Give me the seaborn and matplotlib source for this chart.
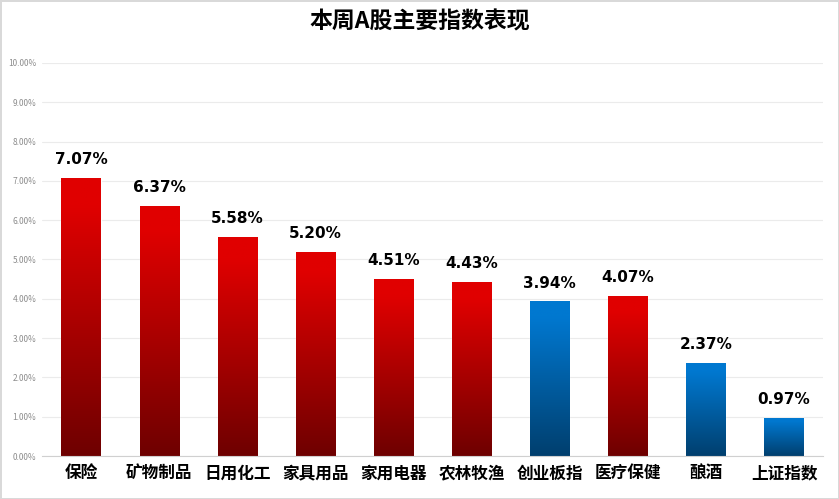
import numpy as np
import pandas as pd
import matplotlib.pyplot as plt
import seaborn as sns
from matplotlib.colors import LinearSegmentedColormap

# 数据
categories = ['保险', '矿物制品', '日用化工', '家具用品', '家用电器', '农林牧渔',
              '创业板指', '医疗保健', '酿酒', '上证指数']
values = [7.07, 6.37, 5.58, 5.20, 4.51, 4.43, 3.94, 4.07, 2.37, 0.97]
groups = ['red', 'red', 'red', 'red', 'red', 'red', 'blue', 'red', 'blue', 'blue']

sns.set_style('white')
plt.rcParams['font.family'] = ['Noto Sans CJK SC', 'DejaVu Sans']

df = pd.DataFrame({'cat': categories, 'val': values, 'grp': groups})

fig = plt.figure(figsize=(8.39, 4.99), dpi=100)
fig.patch.set_edgecolor('#d9d9d9')
fig.patch.set_linewidth(2)
ax = fig.add_axes([0.050, 0.086, 0.931, 0.788])

sns.barplot(data=df, x='cat', y='val', color='#e00000', width=0.5, ax=ax)

# 渐变色
cmaps = {
    'red': LinearSegmentedColormap.from_list('r', [(0, '#6e0000'), (0.9, '#e00000'), (1, '#e00000')]),
    'blue': LinearSegmentedColormap.from_list('b', [(0, '#003f6e'), (0.9, '#0078d0'), (1, '#0078d0')]),
}
grad = np.linspace(0, 1, 256).reshape(-1, 1)
for patch, grp in zip(ax.patches, groups):
    x0, y0 = patch.get_x(), patch.get_y()
    w, h = patch.get_width(), patch.get_height()
    patch.set_facecolor('none')
    im = ax.imshow(grad, cmap=cmaps[grp], origin='lower', aspect='auto',
                   extent=[x0, x0 + w, y0, y0 + h], zorder=2)
    im.set_clip_path(patch)

ax.set_xlim(-0.5, len(categories) - 0.5)
ax.set_ylim(0, 10)
ax.set_yticks(np.arange(0, 11, 1))
ax.set_yticklabels([f'{v:.2f}%' for v in np.arange(0, 11, 1)], fontsize=6, color='#8c8c8c')
ax.yaxis.grid(True, color='#ebebeb', linewidth=0.8)
ax.set_axisbelow(True)
ax.tick_params(axis='y', length=0, pad=4)
ax.tick_params(axis='x', length=0, pad=6)
for lab in ax.get_xticklabels():
    lab.set_fontsize(12)
    lab.set_fontweight('bold')
    lab.set_color('black')
ax.set_xlabel('')
ax.set_ylabel('')
for s in ['top', 'right', 'left']:
    ax.spines[s].set_visible(False)
ax.spines['bottom'].set_color('#d0d0d0')

for i, v in enumerate(values):
    ax.text(i, v + 0.27, f'{v:.2f}%', ha='center', va='bottom', fontsize=11,
            fontweight='bold', color='black', family='DejaVu Sans')

fig.suptitle('本周A股主要指数表现', fontsize=16.5, fontweight='bold', color='black', y=0.978)

fig.savefig('out.png', dpi=100)
